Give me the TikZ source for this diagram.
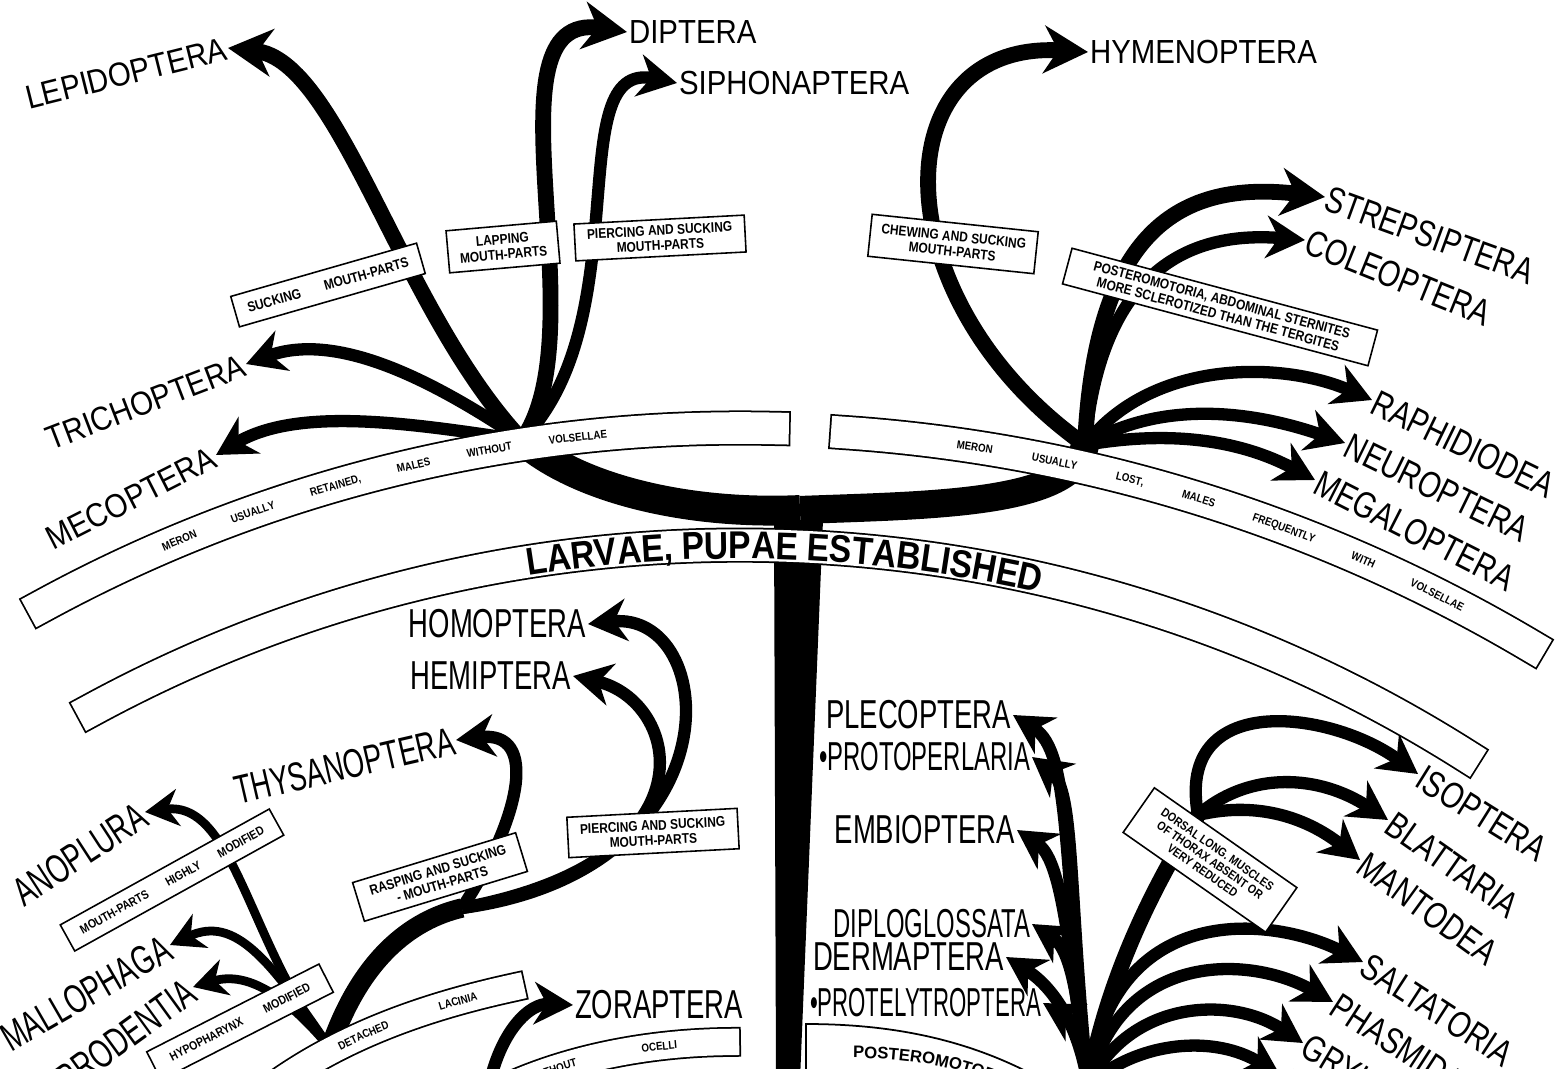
\documentclass[tikz,border=0pt]{standalone}
\usepackage{fontspec}
\usetikzlibrary{arrows.meta,decorations.text}
\setmainfont{Liberation Sans}
\newfontfamily\taxfont[FakeStretch=0.88]{Liberation Sans}
\newfontfamily\sidefont[FakeStretch=0.78]{Liberation Sans}
\newfontfamily\lowfont[FakeStretch=0.68]{Liberation Sans}
\newfontfamily\narrowfont[FakeStretch=0.59]{Liberation Sans}
\newfontfamily\thinfont[FakeStretch=0.55]{Liberation Sans}
\newfontfamily\tagfont[FakeStretch=0.85]{Liberation Sans}
\newfontfamily\bigfont[FakeStretch=0.87]{Liberation Sans}
\newcommand\bandfont{\tagfont\bfseries\fontsize{6.5}{6.5}\selectfont}

\begin{document}
\begin{tikzpicture}[x=0.02cm, y=-0.02cm,
  branch/.style={line width=7pt, -{Stealth[length=22pt,width=24pt,inset=7pt]}},
  fat branch/.style={line width=9pt, -{Stealth[length=25pt,width=27pt,inset=8pt]}},
  thin branch/.style={line width=5pt, -{Stealth[length=19pt,width=21pt,inset=6pt]}},
  toplabel/.style={font=\taxfont\fontsize{19}{19}\selectfont, inner sep=1pt},
  sidelabel/.style={font=\sidefont\fontsize{21}{21}\selectfont, inner sep=1pt},
  lowlabel/.style={font=\lowfont\fontsize{23}{23}\selectfont, inner sep=1pt},
  tag/.style={draw, line width=0.9pt, fill=white, align=center, inner sep=1pt,
    font=\tagfont\bfseries\fontsize{8}{8.6}\selectfont},
  band/.style={draw=white, line width=18pt, line cap=rect,
    preaction={draw=black, line width=20pt, line cap=rect}},
  thin band/.style={draw=white, line width=15pt, line cap=rect,
    preaction={draw=black, line width=17pt, line cap=rect}}]

  \useasboundingbox (0,0) rectangle (1564,1075);
  \clip (0,0) rectangle (1564,1068);

  % Junctions of the branches
  \coordinate (top) at (800,510);
  \coordinate (jl) at (522,440);
  \coordinate (jr) at (1085,445);
  \coordinate (jll) at (330,1048);
  \coordinate (jhs) at (462,908);
  \coordinate (jb) at (1088,1085);
  \coordinate (ji) at (1198,815);
  \coordinate (zbase) at (488,1090);

  % Orders above the band
  \node[toplabel, anchor=east, rotate=14] (lepi) at (228,48) {LEPIDOPTERA};
  \node[toplabel, anchor=west] (dipt) at (627,32) {DIPTERA};
  \node[toplabel, anchor=west] (siph) at (677,83) {SIPHONAPTERA};
  \node[toplabel, anchor=east, rotate=21] (tric) at (246,364) {TRICHOPTERA};
  \node[toplabel, anchor=east, rotate=27] (meco) at (216,455) {MECOPTERA};
  \node[toplabel, anchor=west] (hyme) at (1088,52) {HYMENOPTERA};
  \node[sidelabel, anchor=west, rotate=-20] (stre) at (1325,197) {STREPSIPTERA};
  \node[sidelabel, anchor=west, rotate=-22] (cole) at (1305,240) {COLEOPTERA};
  \node[sidelabel, anchor=west, rotate=-26] (raph) at (1372,400) {RAPHIDIODEA};
  \node[sidelabel, anchor=west, rotate=-26] (neur) at (1345,443) {NEUROPTERA};
  \node[sidelabel, anchor=west, rotate=-27] (mega) at (1315,480) {MEGALOPTERA};

  % Orders below the band
  \node[lowlabel, anchor=east] (homo) at (588,624) {HOMOPTERA};
  \node[lowlabel, anchor=east] (hemi) at (573,676) {HEMIPTERA};
  \node[lowlabel, anchor=east, rotate=13] (thys) at (456,740) {THYSANOPTERA};
  \node[lowlabel, anchor=east, rotate=33] (anop) at (145,812) {ANOPLURA};
  \node[lowlabel, anchor=east, rotate=30] (mall) at (170,945) {MALLOPHAGA};
  \node[lowlabel, anchor=east, rotate=36] (corr) at (193,987) {CORRODENTIA};
  \node[lowlabel, anchor=west] (zora) at (573,1005) {ZORAPTERA};
  \node[lowlabel, anchor=east] (plec) at (1013,715) {PLECOPTERA};
  \node[lowlabel, anchor=east, font=\narrowfont\fontsize{23}{23}\selectfont] (protp) at (1032,757) {•PROTOPERLARIA};
  \node[lowlabel, anchor=east] (embi) at (1017,830) {EMBIOPTERA};
  \node[lowlabel, anchor=east, font=\narrowfont\fontsize{23}{23}\selectfont] (dipl) at (1032,924) {DIPLOGLOSSATA};
  \node[lowlabel, anchor=east] (derm) at (1006,957) {DERMAPTERA};
  \node[lowlabel, anchor=east, font=\thinfont\fontsize{23}{23}\selectfont] (protl) at (1043,1003) {•PROTELYTROPTERA};
  \node[sidelabel, anchor=west, rotate=-32] (isop) at (1418,774) {ISOPTERA};
  \node[sidelabel, anchor=west, rotate=-35] (blat) at (1388,820) {BLATTARIA};
  \node[sidelabel, anchor=west, rotate=-36] (mant) at (1360,860) {MANTODEA};
  \node[sidelabel, anchor=west, rotate=-33] (salt) at (1363,962) {SALTATORIA};
  \node[sidelabel, anchor=west, rotate=-33] (phas) at (1333,1002) {PHASMIDA};
  \node[sidelabel, anchor=west, rotate=-31] (gryl) at (1303,1043) {GRYLLOBLATTODEA};
  \node[sidelabel, anchor=west, rotate=-30] (chel) at (1280,1075) {C};

  % Draw the two arms above the trunk
  \draw[line width=17pt] (top) .. controls (690,515) and (580,490) .. (jl);
  \draw[line width=16pt] (top) .. controls (930,505) and (1075,505) .. (jr);

  % Draw the upper left branches
  \draw[fat branch] (jl) .. controls (400,310) and (340,60) .. (lepi.east);
  \draw[branch] (jl) .. controls (440,385) and (340,330) .. (tric.east);
  \draw[branch] (jl) .. controls (420,425) and (300,405) .. (meco.east);
  \draw[fat branch] (jl) .. controls (600,330) and (480,10) .. (dipt.west);
  \draw[branch] (jl) .. controls (640,320) and (560,60) .. (siph.west);

  % Draw the upper right branches
  \draw[fat branch] (jr) .. controls (880,300) and (880,40) .. (hyme.west);
  \draw[fat branch] (jr) .. controls (1095,230) and (1180,180) .. (stre.west);
  \draw[branch] (jr) .. controls (1100,280) and (1180,230) .. (cole.west);
  \draw[branch] (jr) .. controls (1150,360) and (1280,360) .. (raph.west);
  \draw[branch] (jr) .. controls (1160,400) and (1250,410) .. (neur.west);
  \draw[branch] (jr) .. controls (1170,430) and (1240,440) .. (mega.west);

  % Draw the upper bands
  \draw[band, postaction={decorate, decoration={text along path, text color=black,
    text={|\bandfont|MERON USUALLY RETAINED, MALES WITHOUT VOLSELLAE},
    text align={fit to path stretching spaces, left indent=76pt, right indent=95pt}, raise=-2.3pt}}]
    (42.6,605.8) arc[start angle=241.4, end angle=271.3, radius=1457];
  \draw[band, postaction={decorate, decoration={text along path, text color=black,
    text={|\bandfont|MERON USUALLY LOST, MALES FREQUENTLY WITH VOLSELLAE},
    text align={fit to path stretching spaces, left indent=63pt, right indent=44pt}, raise=-2.3pt}}]
    (846.8,432.7) arc[start angle=273.95, end angle=300.65, radius=1550];

  % Draw the lower left branches
  \draw[line width=11pt] (jll) .. controls (360,960) and (410,920) .. (jhs);
  \draw[thin branch] (jll) .. controls (250,950) and (235,800) .. (anop.east);
  \draw[thin branch] (jll) .. controls (270,960) and (235,915) .. (mall.east);
  \draw[thin branch] (jll) .. controls (290,1000) and (250,970) .. (corr.east);
  \draw[branch] (jhs) .. controls (520,820) and (540,730) .. (thys.east);
  \draw[branch] (jhs) .. controls (740,870) and (720,610) .. (homo.east);
  \draw[branch] (jhs) .. controls (720,860) and (680,700) .. (hemi.east);

  % Draw the lower right branches
  \draw[branch] (jb) .. controls (1062,860) and (1072,752) .. (plec.east);
  \draw[branch] (jb) .. controls (1068,890) and (1075,790) .. (protp.east);
  \draw[branch] (jb) .. controls (1068,940) and (1062,860) .. (embi.east);
  \draw[branch] (jb) .. controls (1078,1000) and (1072,950) .. (dipl.east);
  \draw[branch] (jb) .. controls (1078,1020) and (1050,985) .. (derm.east);
  \draw[branch] (jb) .. controls (1082,1045) and (1080,1025) .. (protl.east);
  \draw[line width=9pt] (jb) .. controls (1110,960) and (1170,860) .. (ji);
  \draw[branch] (ji) .. controls (1175,690) and (1330,710) .. (isop.west);
  \draw[branch] (ji) .. controls (1250,770) and (1320,775) .. (blat.west);
  \draw[branch] (ji) .. controls (1260,800) and (1310,820) .. (mant.west);
  \draw[branch] (jb) .. controls (1110,900) and (1270,915) .. (salt.west);
  \draw[branch] (jb) .. controls (1120,950) and (1250,955) .. (phas.west);
  \draw[branch] (jb) .. controls (1130,1000) and (1230,995) .. (gryl.west);
  \draw[branch] (jb) .. controls (1140,1040) and (1215,1035) .. (chel.west);

  % Draw the lower bands
  \draw[thin band, postaction={decorate, decoration={text along path, text color=black,
    text={|\bandfont|WITH DETACHED LACINIA},
    text align={fit to path stretching spaces, left indent=12pt, right indent=20pt}, raise=-2.3pt}}]
    (255,1100) .. controls (330,1040) and (420,1008) .. (511,988);
  \draw[thin band, postaction={decorate, decoration={text along path, text color=black,
    text={|\bandfont|WITHOUT OCELLI},
    text align={fit to path stretching spaces, left indent=30pt, right indent=28pt}, raise=-2.3pt}}]
    (485,1098) .. controls (560,1058) and (650,1043) .. (726,1042);
  \draw[line width=1pt, fill=white] (806,1100) -- (806,1024) .. controls (900,1024) and (990,1042) .. (1075,1100);
  \path[decorate, decoration={text along path,
    text={|\bfseries\fontsize{9.5}{9.5}\selectfont|POSTEROMOTORIA},
    text align=left}] (853,1058) .. controls (920,1058) and (975,1070) .. (1035,1100);

  % Draw the Zoraptera arrow
  \draw[branch] (zbase) .. controls (500,1030) and (530,1003) .. (zora.west);

  % Draw the trunk and the main band
  \fill (774,520) -- (823,520) -- (800,1080) -- (776,1080) -- cycle;
  \draw[band, postaction={decorate, decoration={text along path, text color=black,
    text={|\bigfont\bfseries\fontsize{22}{22}\selectfont|LARVAE, PUPAE ESTABLISHED},
    text align=center, raise=-7.8pt}}]
    (92.4,709.5) arc[start angle=241.5, end angle=302.3, radius=1357];

  % Draw the boxed characters
  \node[tag, rotate=16, minimum width=110pt, minimum height=18pt] (suck) at (328,285) {SUCKING\hspace{14pt}MOUTH-PARTS};
  \node[tag, rotate=5, minimum width=63pt, minimum height=24pt] (lapp) at (503,247) {LAPPING\\MOUTH-PARTS};
  \node[tag, rotate=3, minimum width=97pt, minimum height=21pt] (pier) at (660,238) {PIERCING AND SUCKING\\MOUTH-PARTS};
  \node[tag, rotate=-6, minimum width=95pt, minimum height=24pt] (chew) at (953,244) {CHEWING AND SUCKING\\MOUTH-PARTS};
  \node[tag, rotate=-15, minimum width=180pt, minimum height=21pt] (post) at (1220,307) {POSTEROMOTORIA, ABDOMINAL STERNITES\\MORE SCLEROTIZED THAN THE TERGITES};
  \node[tag, rotate=29, minimum width=136pt, minimum height=17pt, font=\tagfont\bfseries\fontsize{7}{7.5}\selectfont] (high) at (172,880) {MOUTH-PARTS\hspace{12pt}HIGHLY\hspace{12pt}MODIFIED};
  \node[tag, rotate=27, minimum width=110pt, minimum height=18pt, font=\tagfont\bfseries\fontsize{7}{7.5}\selectfont] (hypo) at (240,1022) {HYPOPHARYNX\hspace{14pt}MODIFIED};
  \node[tag, rotate=17, minimum width=97pt, minimum height=23pt] (rasp) at (440,877) {RASPING AND SUCKING\\- MOUTH-PARTS};
  \node[tag, rotate=3, minimum width=97pt, minimum height=23pt] (pier2) at (653,833) {PIERCING AND SUCKING\\MOUTH-PARTS};
  \node[tag, rotate=-35, minimum width=99pt, minimum height=31pt, font=\tagfont\bfseries\fontsize{7}{7.4}\selectfont] (dors) at (1210,860) {DORSAL LONG. MUSCLES\\OF THORAX ABSENT OR\\VERY REDUCED};
\end{tikzpicture}
\end{document}
